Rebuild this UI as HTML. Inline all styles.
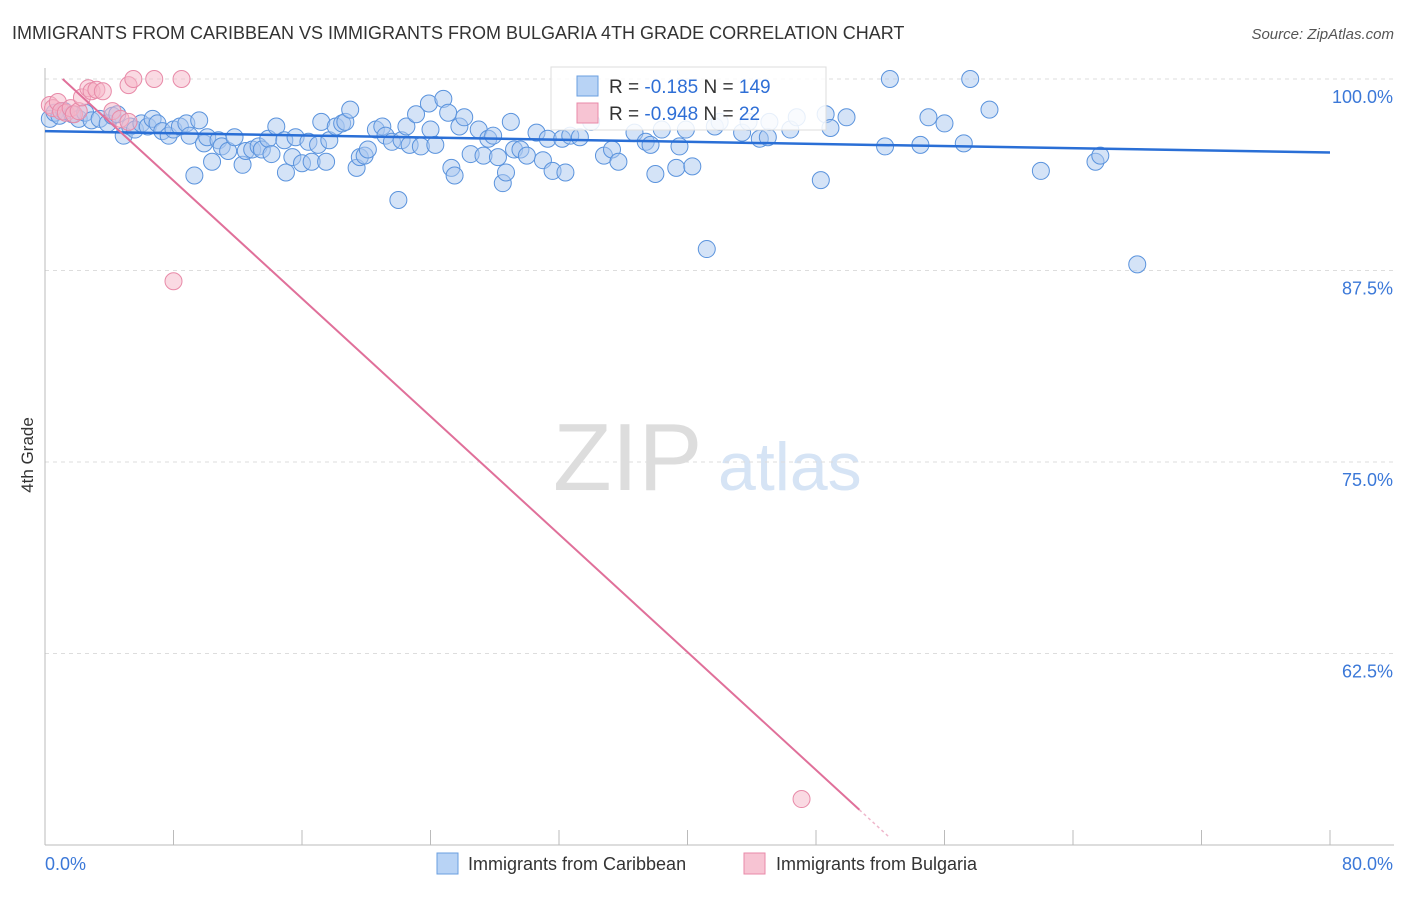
<!DOCTYPE html>
<html><head><meta charset="utf-8"><style>
body{margin:0;background:#fff;font-family:"Liberation Sans",sans-serif;}
svg text{font-family:"Liberation Sans",sans-serif;}
</style></head><body>
<svg id="chart" width="1406" height="892" viewBox="0 0 1406 892">
<text x="12" y="39" font-size="18" fill="#333">IMMIGRANTS FROM CARIBBEAN VS IMMIGRANTS FROM BULGARIA 4TH GRADE CORRELATION CHART</text>
<text x="1394" y="39" font-size="15" fill="#555" text-anchor="end" font-style="italic">Source: ZipAtlas.com</text>
<text x="553" y="490" font-size="96" fill="#ddd" font-family="Liberation Serif,serif">ZIP</text>
<text x="718" y="490" font-size="68" fill="#d6e4f5">atlas</text>
<text transform="translate(33,455) rotate(-90)" font-size="17" fill="#333" text-anchor="middle">4th Grade</text>
<g id="grid"></g><g id="axes"></g><g id="pts"></g><g id="lines"></g>
<g>
<rect x="551" y="67" width="275" height="63" fill="#fff" fill-opacity="0.85" stroke="#ddd"/>
<rect x="577" y="76" width="21" height="20" fill="#b8d3f5" stroke="#6a9fe0"/>
<text x="609" y="93" font-size="19" fill="#333">R = <tspan fill="#2f6fd6"> -0.185</tspan>   N = <tspan fill="#2f6fd6">149</tspan></text>
<rect x="577" y="103" width="21" height="20" fill="#f7c4d3" stroke="#e88aa8"/>
<text x="609" y="120" font-size="19" fill="#333">R = <tspan fill="#2f6fd6">-0.948</tspan>   N = <tspan fill="#2f6fd6">  22</tspan></text>
</g>
<g>
<rect x="437" y="853" width="21" height="21" fill="#b8d3f5" stroke="#6a9fe0"/>
<text x="468" y="870" font-size="18" fill="#333">Immigrants from Caribbean</text>
<rect x="744" y="853" width="21" height="21" fill="#f7c4d3" stroke="#e88aa8"/>
<text x="776" y="870" font-size="18" fill="#333">Immigrants from Bulgaria</text>
</g>
</svg>
<script>
const blueX=[0.3,0.6,0.9,1.2,1.7,2.1,2.5,2.9,3.4,3.9,4.2,4.5,4.9,5.3,5.6,6.0,6.4,6.7,7.0,7.3,7.7,8.0,8.4,8.8,9.0,9.3,9.6,9.9,10.1,10.4,10.8,11.0,11.4,11.8,12.3,12.5,12.9,13.3,13.5,13.9,14.1,14.4,14.9,15.0,15.4,15.6,16.0,16.4,16.6,17.0,17.2,17.5,17.7,18.1,18.5,18.7,19.0,19.4,19.6,19.9,20.1,20.6,21.0,21.2,21.6,22.0,22.2,22.5,22.7,23.1,23.4,23.9,24.0,24.3,24.8,25.1,25.3,25.5,25.8,26.1,26.5,27.0,27.3,27.6,27.9,28.2,28.5,28.7,29.0,29.2,29.6,30.0,30.6,31.0,31.3,31.6,32.2,32.4,32.7,33.3,34.0,34.8,35.3,35.7,36.7,37.4,37.7,38.0,38.4,39.3,39.5,39.9,40.3,41.2,41.7,42.0,43.4,43.8,44.5,45.0,45.1,46.4,46.8,48.3,48.6,48.9,49.9,52.3,52.6,54.5,55.0,56.0,57.2,57.6,58.8,62.0,65.4,65.7,68.0];
const blueY=[97.4,97.8,97.6,97.9,97.7,97.4,97.8,97.3,97.4,97.1,97.6,97.7,96.3,96.9,96.7,97.1,96.9,97.4,97.1,96.6,96.3,96.7,96.9,97.1,96.3,93.7,97.3,95.8,96.2,94.6,96.0,95.6,95.3,96.2,94.4,95.3,95.4,95.6,95.4,96.1,95.1,96.9,96.0,93.9,94.9,96.2,94.5,95.9,94.6,95.7,97.2,94.6,96.0,96.9,97.1,97.2,98.0,94.2,94.9,95.0,95.4,96.7,96.9,96.3,95.9,92.1,96.0,96.9,95.7,97.7,95.6,98.4,96.7,95.7,98.7,97.8,94.2,93.7,96.9,97.5,95.1,96.7,95.0,96.1,96.3,94.9,93.2,93.9,97.2,95.4,95.4,95.0,96.5,94.7,96.1,94.0,96.1,93.9,96.3,96.2,97.2,95.0,95.4,94.6,96.5,95.9,95.7,93.8,96.7,94.2,95.6,96.7,94.3,88.9,96.9,97.2,96.5,97.2,96.1,96.2,97.2,96.7,97.5,93.4,97.7,96.8,97.5,95.6,100.0,95.7,97.5,97.1,95.8,100.0,98.0,94.0,94.6,95.0,87.9];
const pinkX=[0.3,0.5,0.8,1.0,1.3,1.6,1.8,2.1,2.3,2.7,2.9,3.2,3.6,4.2,4.7,5.2,5.2,5.5,6.8,8.5,8.0,47.1];
const pinkY=[98.3,98.1,98.5,97.9,97.8,98.1,97.7,97.9,98.8,99.4,99.2,99.3,99.2,97.9,97.4,97.2,99.6,100.0,100.0,100.0,86.8,53.0];
const yTicks=[100,87.5,75,62.5];
const yTickLabels=["100.0%","87.5%","75.0%","62.5%"];
const xLabels=["0.0%","80.0%"];
const blueFit=[96.6,95.2];
const pinkFit=[100,52.3];
const X=v=>45+v/80*1285, Y=v=>79+(100-v)*15.32;
const NS="http://www.w3.org/2000/svg";
function mk(tag,attrs,parent){const e=document.createElementNS(NS,tag);for(const k in attrs)e.setAttribute(k,attrs[k]);document.getElementById(parent).appendChild(e);return e;}
yTicks.forEach((t,i)=>{
 const l=mk('line',{x1:45,x2:1394,y1:Y(t),y2:Y(t),stroke:'#ddd','stroke-dasharray':'4,4'},'grid');
 
 
 const tx=mk('text',{x:1393,y:Y(t)+24,'font-size':18,fill:'#3b78d8','text-anchor':'end'},'grid');tx.textContent=yTickLabels[i];
 
 
});
const ax=mk('line',{x1:45,x2:45,y1:68,y2:845,stroke:'#bbb'},'axes');


const bx=mk('line',{x1:45,x2:1394,y1:845,y2:845,stroke:'#bbb'},'axes');


for(let i=0;i<=10;i++){const t=mk('line',{x1:X(i*8),x2:X(i*8),y1:830,y2:845,stroke:'#bbb'},'axes');
 
 }
const xl0=mk('text',{x:45,y:870,'font-size':18,fill:'#3b78d8'},'axes');xl0.textContent=xLabels[0];


const xl1=mk('text',{x:1393,y:870,'font-size':18,fill:'#3b78d8','text-anchor':'end'},'axes');xl1.textContent=xLabels[1];


blueX.forEach((v,i)=>{const c=mk('circle',{cx:X(v),cy:Y(blueY[i]),r:8.5,fill:'#a9c8f0','fill-opacity':0.5,stroke:'#5a93dd','stroke-width':1},'pts');
 
 });
pinkX.forEach((v,i)=>{const c=mk('circle',{cx:X(v),cy:Y(pinkY[i]),r:8.5,fill:'#f5b5c8','fill-opacity':0.5,stroke:'#e88aa8','stroke-width':1},'pts');
 
 });
const bl=mk('line',{x1:X(0),y1:Y(blueFit[0]),x2:X(80),y2:Y(blueFit[1]),stroke:'#2a6fd6','stroke-width':2.5},'lines');


const px0=1.1,px1=50.7,pxe=52.5;
const py=x=>pinkFit[0]+(pinkFit[1]-pinkFit[0])*(x-px0)/(px1-px0);
const pl=mk('line',{x1:X(px0),y1:Y(py(px0)),x2:X(px1),y2:Y(py(px1)),stroke:'#e0709a','stroke-width':2},'lines');


const pd=mk('line',{x1:X(px1),y1:Y(py(px1)),x2:X(pxe),y2:Y(py(pxe)),stroke:'#e0709a','stroke-width':1.5,'stroke-dasharray':'3,3','stroke-opacity':0.5},'lines');


</script>
</body></html>
